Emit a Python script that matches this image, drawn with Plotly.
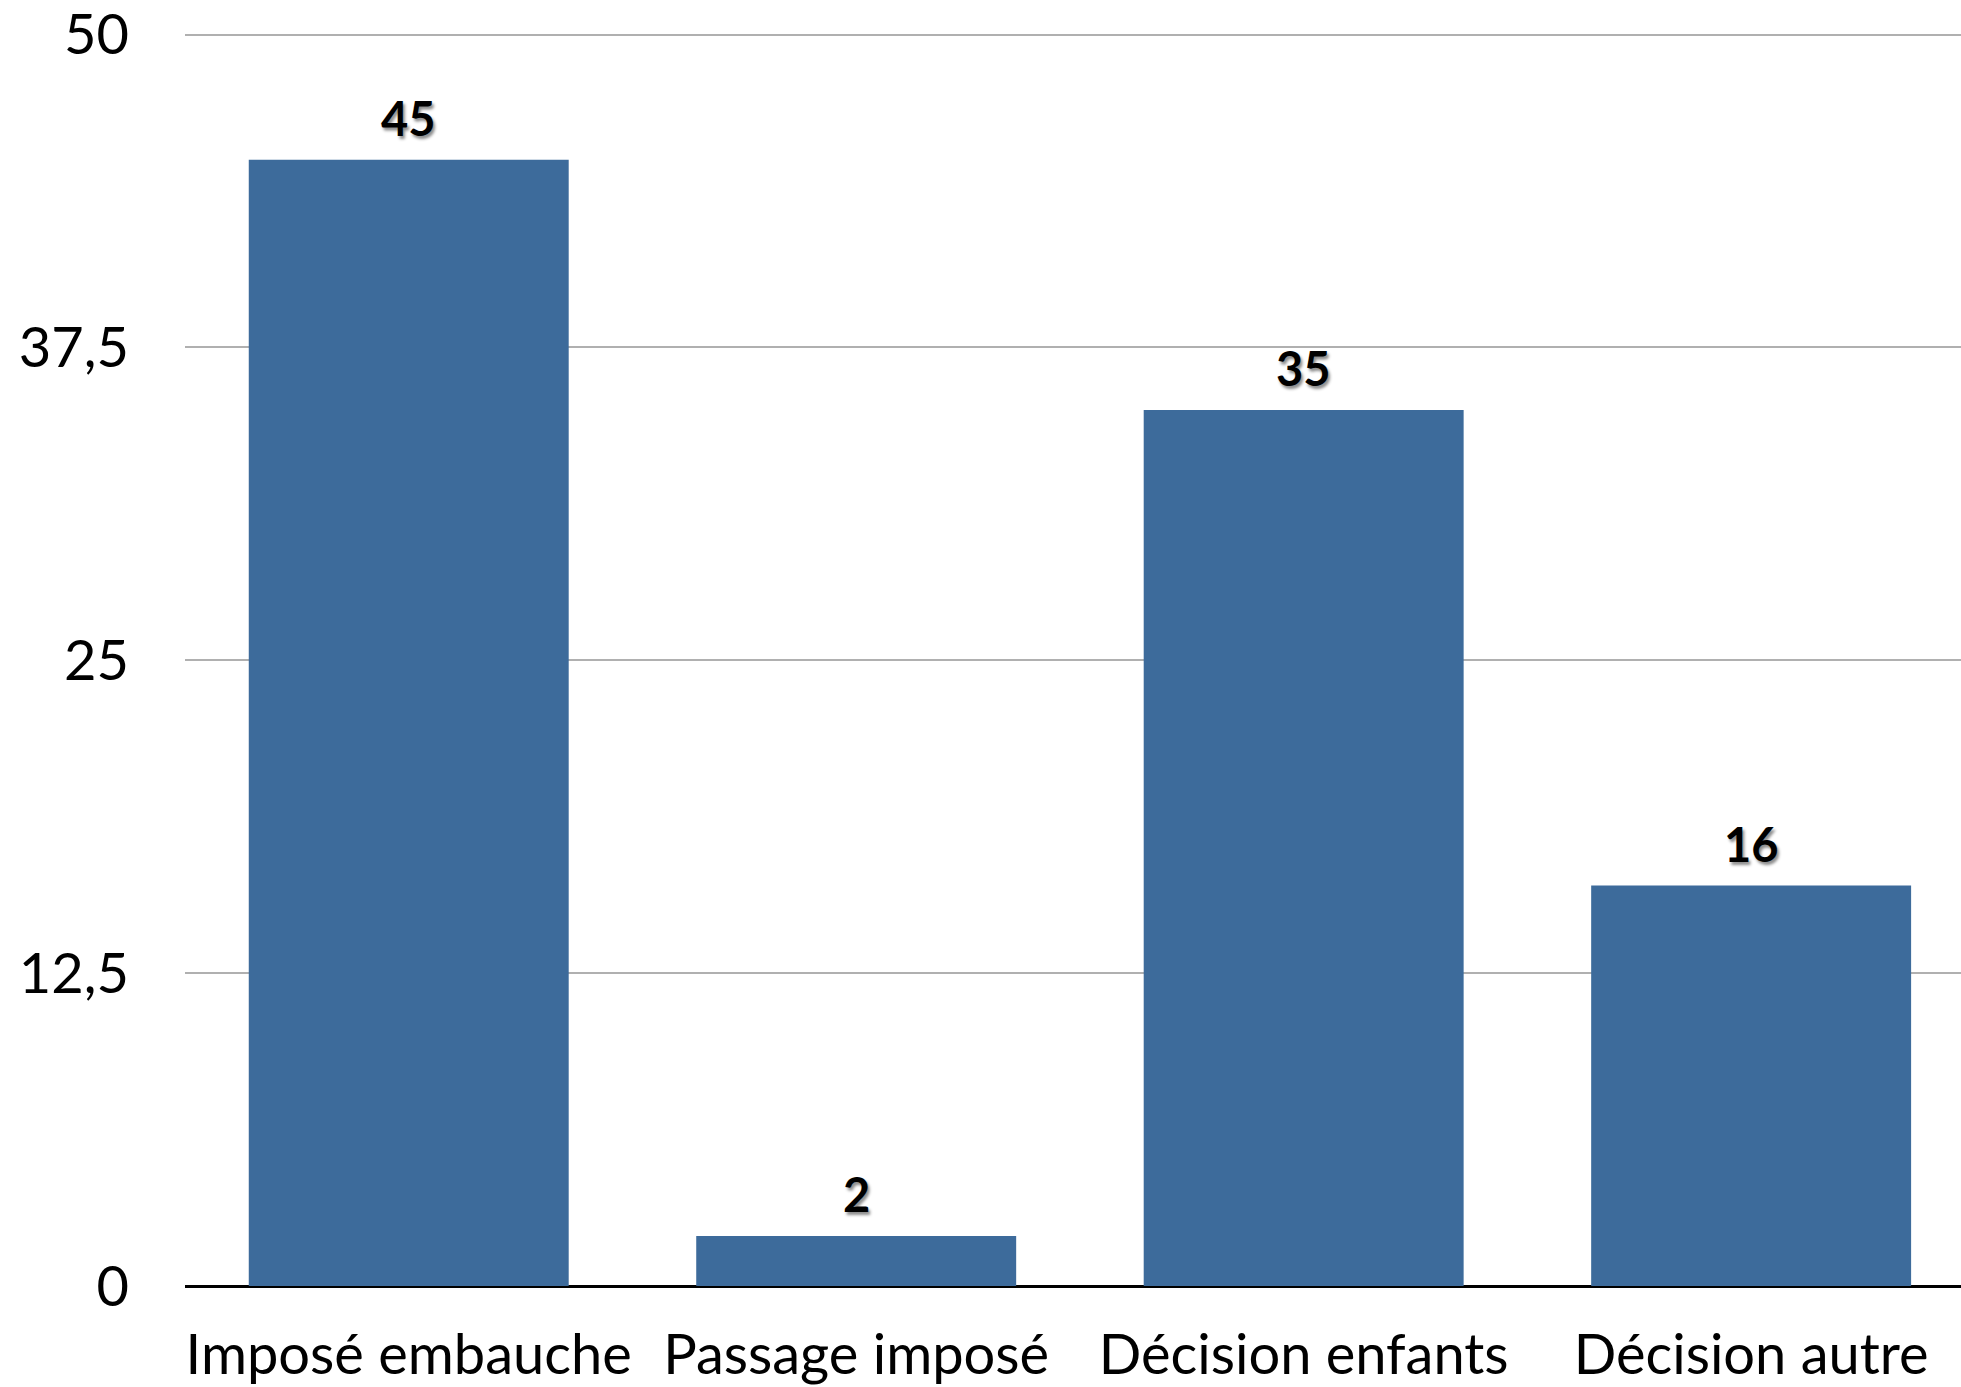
import plotly.graph_objects as go

categories = ["Imposé embauche", "Passage imposé", "Décision enfants", "Décision autre"]
values = [45, 2, 35, 16]
tick_vals = [0, 12.5, 25, 37.5, 50]
tick_text = ["0", "12,5", "25", "37,5", "50"]

BAR = "#3d6b9b"
FONT = "Lato"

fig = go.Figure()
fig.add_trace(go.Bar(x=categories, y=values, marker=dict(color=BAR, line=dict(width=0)),
                     hoverinfo="skip"))

for c, v in zip(categories, values):
    fig.add_annotation(x=c, y=v, text=str(v), showarrow=False, yanchor="bottom",
                       yshift=12,
                       font=dict(family=FONT, size=47, color="#000000", weight="bold",
                                 shadow="2px 3px 3px rgba(0,0,0,0.45)"))

fig.update_layout(
    width=1961, height=1387,
    margin=dict(l=185, r=0, t=32, b=101, autoexpand=False),
    paper_bgcolor="white", plot_bgcolor="white",
    bargap=0.285,
    showlegend=False,
    font=dict(family=FONT, color="#000000"),
)
fig.update_xaxes(range=[-0.5, 3.469], showgrid=False, showline=False, ticks="",
                 automargin=False, ticklabeloverflow="allow",
                 tickfont=dict(size=56, family=FONT), ticklabelstandoff=31, fixedrange=True)
fig.update_yaxes(range=[0, 50.1], tickvals=tick_vals, ticktext=tick_text,
                 automargin=False, ticklabeloverflow="allow",
                 showgrid=True, gridcolor="#b0b0b0", gridwidth=2,
                 zeroline=True, zerolinecolor="#000000", zerolinewidth=3,
                 showline=False, ticks="", tickfont=dict(size=56, family=FONT),
                 ticklabelstandoff=55, fixedrange=True)

fig.write_html("out.html", config={"displayModeBar": False},
               post_script="document.body.style.margin='0px';")
